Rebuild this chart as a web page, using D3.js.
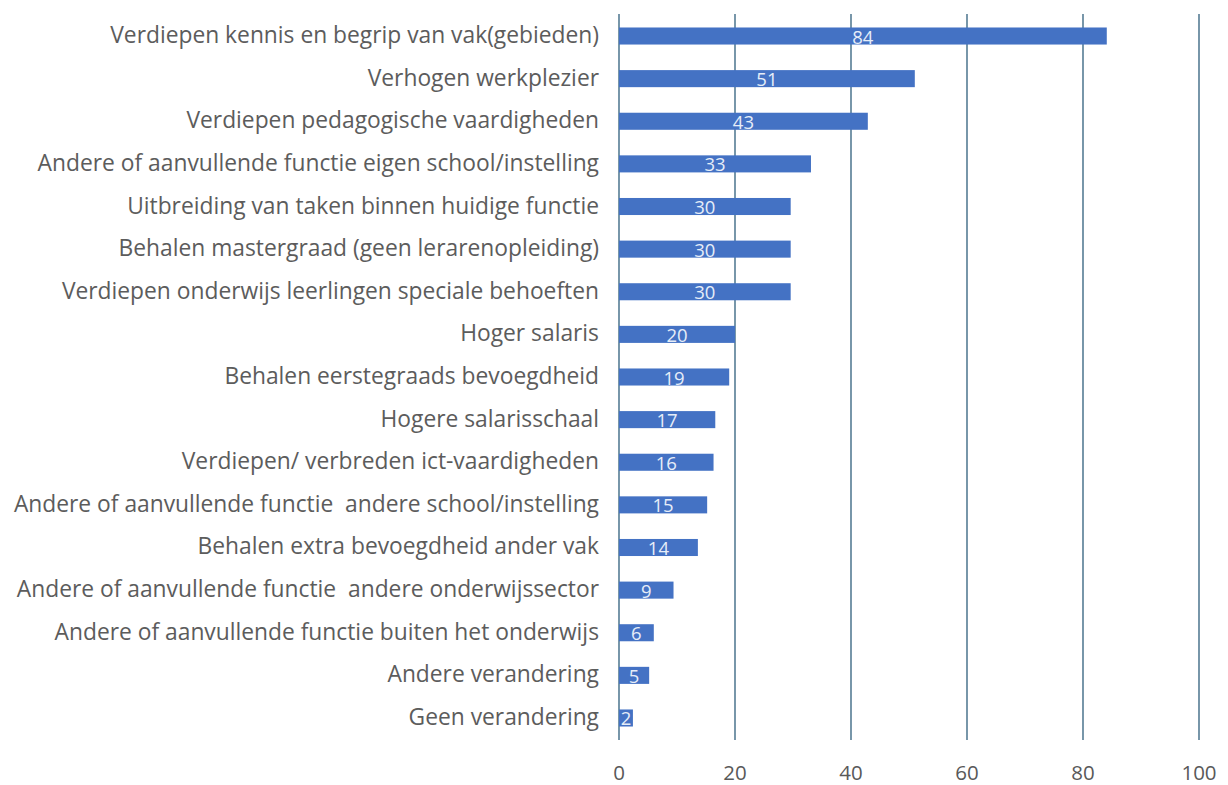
<!DOCTYPE html>
<html><head><meta charset="utf-8">
<script src="https://cdn.jsdelivr.net/npm/d3@7"></script>
<style>body{margin:0;background:#fff}svg{display:block}text{white-space:pre}</style>
</head><body>
<svg id="c" width="1228" height="785"></svg>
<script>
const categories = [
 "Verdiepen kennis en begrip van vak(gebieden)",
 "Verhogen werkplezier",
 "Verdiepen pedagogische vaardigheden",
 "Andere of aanvullende functie eigen school/instelling",
 "Uitbreiding van taken binnen huidige functie",
 "Behalen mastergraad (geen lerarenopleiding)",
 "Verdiepen onderwijs leerlingen speciale behoeften",
 "Hoger salaris",
 "Behalen eerstegraads bevoegdheid",
 "Hogere salarisschaal",
 "Verdiepen/ verbreden ict-vaardigheden",
 "Andere of aanvullende functie  andere school/instelling",
 "Behalen extra bevoegdheid ander vak",
 "Andere of aanvullende functie  andere onderwijssector",
 "Andere of aanvullende functie buiten het onderwijs",
 "Andere verandering",
 "Geen verandering"
];
const values = [84.1,51.0,42.9,33.1,29.6,29.6,29.6,20.0,19.0,16.6,16.3,15.2,13.6,9.4,6.0,5.2,2.4];
const tickValues = [0,20,40,60,80,100];

const svg = d3.select("#c");
const x = d3.scaleLinear().domain([0,100]).range([619,1199]);
const y = d3.scaleBand().domain(categories).range([14.7,739.3]).paddingInner(0.6).paddingOuter(0.3);

// gridlines
svg.append("g").selectAll("line").data(tickValues).join("line")
  .attr("x1",d=>x(d)).attr("x2",d=>x(d)).attr("y1",14).attr("y2",740)
  .attr("stroke","#2f5f7c").attr("stroke-width",1.3);

// axis labels
svg.append("g").selectAll("text").data(tickValues).join("text")
  .attr("x",d=>x(d)).attr("y",780).attr("text-anchor","middle")
  .attr("font-family","Open Sans, sans-serif").attr("font-size",20.5).attr("fill","#595959")
  .text(d=>d);

// bars
svg.append("g").selectAll("rect").data(values).join("rect")
  .attr("x",x(0)).attr("y",(d,i)=>y(categories[i]))
  .attr("width",d=>x(d)-x(0)).attr("height",y.bandwidth())
  .attr("fill","#4472c4");

// value labels
svg.append("g").selectAll("text").data(values).join("text")
  .attr("x",d=>x(d/2)).attr("y",(d,i)=>y(categories[i])+y.bandwidth()/2+7.5)
  .attr("text-anchor","middle")
  .attr("font-family","Open Sans, sans-serif").attr("font-size",18.5).attr("fill","#e6edf8")
  .text(d=>Math.round(d));

// category labels
svg.append("g").selectAll("text").data(categories).join("text")
  .attr("x",599).attr("y",d=>y(d)+y.bandwidth()/2+7)
  .attr("text-anchor","end")
  .attr("font-family","Open Sans, sans-serif").attr("font-size",22.8).attr("fill","#5c5c5c")
  .text(d=>d);
</script>
</body></html>
